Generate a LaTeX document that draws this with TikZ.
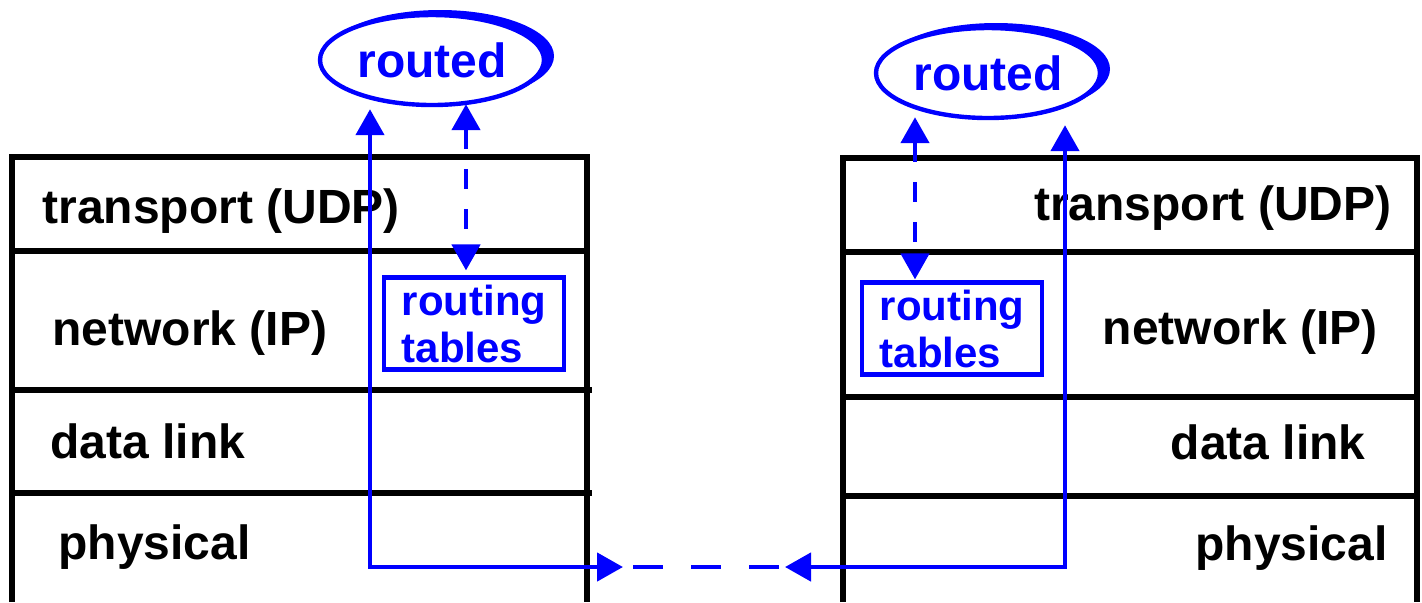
\documentclass[tikz,border=0pt]{standalone}
\usepackage{fontspec}
\setmainfont{Liberation Sans}
\usetikzlibrary{arrows.meta,shapes.geometric}

\begin{document}
\begin{tikzpicture}[x=0.5pt,y=-0.5pt,
    >={Triangle[length=13pt,width=14pt]},
    layer/.style={line width=2.6pt},
    lbl/.style={inner sep=0pt,font=\bfseries\fontsize{24}{28}\selectfont},
    daemon/.style={ellipse,draw=blue,fill=white,line width=2.2pt,text=blue,
        inner sep=0pt,minimum width=112pt,minimum height=45pt,
        font=\bfseries\fontsize{24}{28}\selectfont},
    tablebox/.style={draw=blue,line width=2.1pt,text=blue,align=left,
        inner sep=0pt,minimum width=90pt,minimum height=46pt,
        font=\bfseries\fontsize{21}{23.5}\selectfont},
    flow/.style={blue,line width=2.3pt},
    ctrl/.style={blue,line width=2.3pt,dash pattern=on 10pt off 10pt}]
    \useasboundingbox (0,0) rectangle (1422,602);

    % left protocol stack
    \draw[layer] (12,602) -- (12,157) -- (587,157) -- (587,602);
    \draw[layer] (12,251) -- (587,251);
    \draw[layer] (12,390) -- (592,390);
    \draw[layer] (12,493) -- (592,493);
    \node[lbl,anchor=base west] (transpL) at (42,223) {transport (UDP)};
    \node[lbl,anchor=base west] (netL) at (52,345) {network (IP)};
    \node[lbl,anchor=base west] (linkL) at (50,458) {data link};
    \node[lbl,anchor=base west] (physL) at (58,559) {physical};

    % right protocol stack
    \draw[layer] (843,602) -- (843,158) -- (1417,158) -- (1417,602);
    \draw[layer] (843,252) -- (1417,252);
    \draw[layer] (843,397) -- (1420,397);
    \draw[layer] (843,496) -- (1420,496);
    \node[lbl,anchor=base east] (transpR) at (1392,220) {transport (UDP)};
    \node[lbl,anchor=base east] (netR) at (1378,344) {network (IP)};
    \node[lbl,anchor=base east] (linkR) at (1366,459) {data link};
    \node[lbl,anchor=base east] (physR) at (1388,560) {physical};

    % routed processes
    \fill[blue] (440,56) ellipse [x radius=57pt, y radius=23pt];
    \node[daemon] (routedL) at (432,60) {routed};
    \fill[blue] (996,69) ellipse [x radius=57pt, y radius=23pt];
    \node[daemon] (routedR) at (988,73) {routed};

    \node[tablebox] (tablesL) at (474,323.5) {routing\\tables};
    \node[tablebox] (tablesR) at (952,328.5) {routing\\tables};

    % connectors
    \coordinate (upL) at (370,0);
    \coordinate (upR) at (1065,0);
    \coordinate (tapL) at (466,0);
    \coordinate (tapR) at (915,0);
    \coordinate (wireL) at (623,567);
    \coordinate (wireR) at (785,567);

    \draw[flow,<->,shorten <=1pt] (routedL.south -| upL) -- (upL |- wireL) -- (wireL);
    \draw[flow,<->,shorten >=2.5pt] (wireR) -- (upR |- wireR) -- (routedR.south -| upR);
    \draw[flow,dash pattern=on 15pt off 14pt,shorten <=5pt,shorten >=3pt] (wireL) -- (wireR);

    \draw[ctrl,<->,shorten <=-1.5pt,shorten >=2.5pt] (routedL.south -| tapL) -- (tablesL.north -| tapL);
    \draw[ctrl,<->,shorten <=-1.5pt,shorten >=0.5pt] (routedR.south -| tapR) -- (tablesR.north -| tapR);
\end{tikzpicture}
\end{document}
